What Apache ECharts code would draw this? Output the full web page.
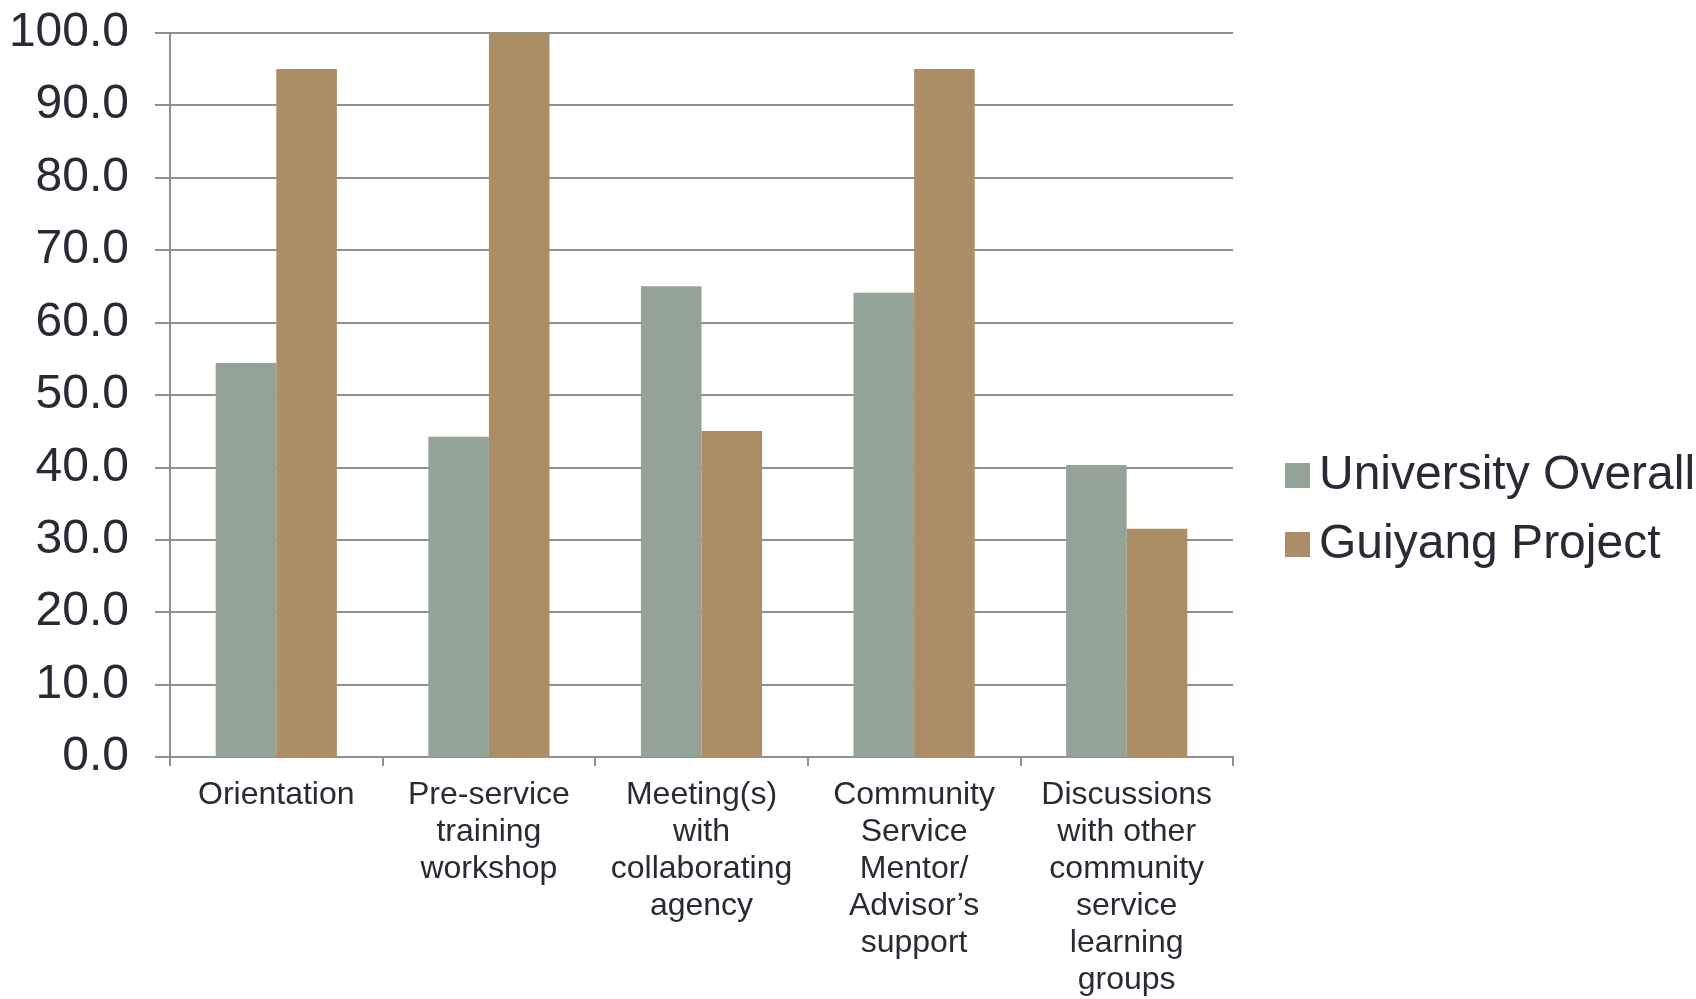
<!DOCTYPE html>
<html>
<head>
<meta charset="utf-8">
<title>University Overall vs Guiyang Project</title>
<script src="https://cdn.jsdelivr.net/npm/echarts@6/dist/echarts.min.js"></script>
<style>
  html, body { margin: 0; padding: 0; background: #ffffff; }
  #chart { width: 1696px; height: 999px; }
</style>
</head>
<body>
<div id="chart"></div>
<script>
// Support sources: percentage of respondents
const categories = [
  'Orientation',
  'Pre-service\ntraining\nworkshop',
  'Meeting(s)\nwith\ncollaborating\nagency',
  'Community\nService\nMentor/\nAdvisor\u2019s\nsupport',
  'Discussions\nwith other\ncommunity\nservice\nlearning\ngroups'
];
const seriesNames = ['University Overall', 'Guiyang Project'];
const universityOverall = [54.4, 44.2, 65.0, 64.1, 40.3];
const guiyangProject = [95.0, 100.0, 45.0, 95.0, 31.5];

const FONT = '"Liberation Sans", Arial, Helvetica, sans-serif';
const TEXT = '#2a2a35';
const GRID = '#8f8f8f';

const chart = echarts.init(document.getElementById('chart'), null, { renderer: 'canvas' });
chart.setOption({
  animation: false,
  backgroundColor: '#ffffff',
  textStyle: { fontFamily: FONT },
  grid: { left: 170, right: 463, top: 32.7, bottom: 239, containLabel: false },
  legend: {
    orient: 'vertical',
    left: 1280,
    top: 445.5,
    itemWidth: 25,
    itemHeight: 25,
    itemGap: 19,
    icon: 'rect',
    textStyle: { fontFamily: FONT, fontSize: 48, color: TEXT, lineHeight: 50, padding: [0, 0, 0, 4] },
    data: seriesNames
  },
  xAxis: {
    type: 'category',
    data: categories,
    axisLine: { show: true, lineStyle: { color: GRID, width: 2 } },
    axisTick: { show: true, length: 9, lineStyle: { color: GRID, width: 2 } },
    axisLabel: {
      interval: 0,
      margin: 20,
      fontFamily: FONT,
      fontSize: 32,
      lineHeight: 37,
      color: TEXT,
      align: 'center'
    },
    splitLine: { show: false }
  },
  yAxis: {
    type: 'value',
    min: 0,
    max: 100,
    interval: 10,
    axisLine: { show: true, lineStyle: { color: GRID, width: 2 } },
    axisTick: { show: true, length: 15, lineStyle: { color: GRID, width: 2 } },
    axisLabel: {
      margin: 41,
      fontFamily: FONT,
      fontSize: 48,
      color: TEXT,
      formatter: v => v.toFixed(1)
    },
    splitLine: { show: true, lineStyle: { color: GRID, width: 2 } }
  },
  series: [
    {
      name: seriesNames[0],
      type: 'bar',
      data: universityOverall,
      barGap: '0%',
      barCategoryGap: '43%',
      itemStyle: { color: '#93a398' }
    },
    {
      name: seriesNames[1],
      type: 'bar',
      data: guiyangProject,
      barGap: '0%',
      barCategoryGap: '43%',
      itemStyle: { color: '#ac8e66' }
    }
  ]
});
</script>
</body>
</html>
